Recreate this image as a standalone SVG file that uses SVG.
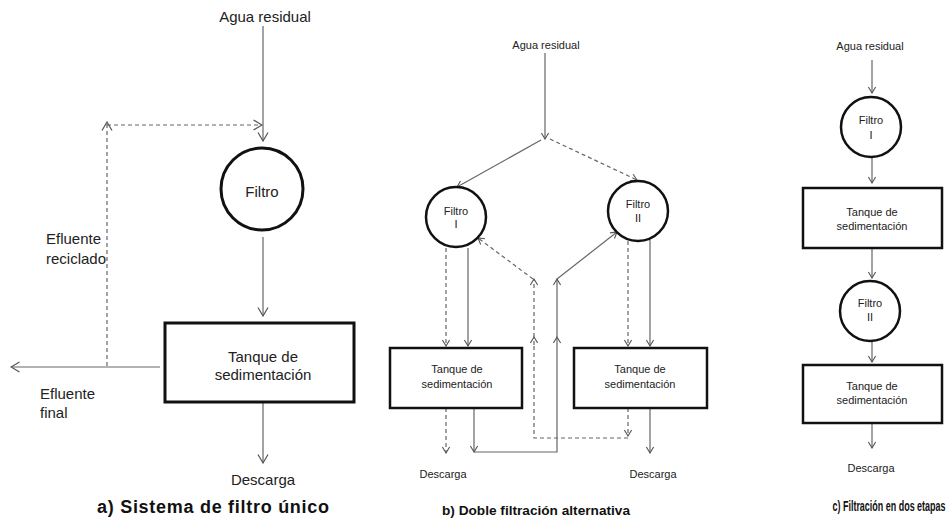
<svg xmlns="http://www.w3.org/2000/svg" width="950" height="525" viewBox="0 0 950 525">
  <defs>
    <style>
      .txt { font-family: "Liberation Sans", Arial, sans-serif; fill: #222; text-anchor: middle; }
      .t15 { font-size: 15px; }
      .t11 { font-size: 11px; }
      .left { text-anchor: start; }
      .title { font-family: "Liberation Sans", Arial, sans-serif; font-weight: bold; fill: #111; text-anchor: middle; }
      .node { fill: #fff; stroke: #111; stroke-width: 3; }
      .node-s { fill: #fff; stroke: #111; stroke-width: 2.5; }
      .ln { fill: none; stroke: #666; stroke-width: 1.2; }
      .dash { stroke-dasharray: 4 3; }
      .big { marker-end: url(#arrBig); }
      .sm { marker-end: url(#arrSm); }
    </style>
    <!-- open chevron arrowheads -->
    <marker id="arrBig" viewBox="-10 -6 11 12" markerWidth="11" markerHeight="12" refX="0" refY="0" orient="auto" markerUnits="userSpaceOnUse">
      <path d="M-8.5,-5 L0,0 L-8.5,5" fill="none" stroke="#555" stroke-width="1.2"/>
    </marker>
    <marker id="arrSm" viewBox="-8 -5 9 10" markerWidth="9" markerHeight="10" refX="0" refY="0" orient="auto" markerUnits="userSpaceOnUse">
      <path d="M-6,-3.6 L0,0 L-6,3.6" fill="none" stroke="#555" stroke-width="1.1"/>
    </marker>
  </defs>

  <!-- ===== a) single filter system ===== -->
  <g id="connectors-a">
    <path class="ln big" d="M263,26 V141"/>
    <path class="ln dash big" d="M107,366 V122"/>
    <path class="ln dash big" d="M107,125 H262"/>
    <path class="ln big" d="M263,237 V316"/>
    <path class="ln big" d="M160,367 H11"/>
    <path class="ln big" d="M263,403 V463"/>
  </g>
  <g id="a-filtro">
    <circle class="node" cx="262" cy="189" r="41"/>
    <text class="txt t15" x="262" y="197">Filtro</text>
  </g>
  <g id="a-tanque">
    <rect class="node" x="165" y="323" width="189" height="79"/>
    <text class="txt t15" x="263" y="362">Tanque de</text>
    <text class="txt t15" x="263" y="380">sedimentación</text>
  </g>
  <g id="a-labels">
    <text class="txt t15" x="265" y="22">Agua residual</text>
    <text class="txt t15 left" x="46" y="244">Efluente</text>
    <text class="txt t15 left" x="46" y="264">reciclado</text>
    <text class="txt t15 left" x="40" y="399">Efluente</text>
    <text class="txt t15 left" x="40" y="418">final</text>
    <text class="txt t15" x="263" y="485">Descarga</text>
    <text class="title" x="213" y="513" font-size="18" textLength="232" lengthAdjust="spacing">a) Sistema de filtro único</text>
  </g>

  <!-- ===== b) alternating double filtration ===== -->
  <g id="connectors-b">
    <path class="ln sm" d="M545,53 V139"/>
    <path class="ln sm" d="M541,140 L457,187"/>
    <path class="ln dash sm" d="M550,139 L637,180"/>
    <!-- filter I to tank -->
    <path class="ln dash sm" d="M446,248 V346"/>
    <path class="ln sm" d="M468,248 V346"/>
    <!-- filter II to tank -->
    <path class="ln dash sm" d="M628,241 V346"/>
    <path class="ln sm" d="M650,240 V346"/>
    <!-- tank outlets -->
    <path class="ln dash sm" d="M446,408 V453"/>
    <path class="ln sm" d="M650,408 V453"/>
    <!-- tank I effluent to filter II -->
    <path class="ln sm" d="M474,408 V452"/>
    <path class="ln sm" d="M474,452 H557 V337"/>
    <path class="ln sm" d="M557,337 V279"/>
    <path class="ln sm" d="M557,279 L617,232"/>
    <!-- tank II effluent to filter I -->
    <path class="ln dash sm" d="M628,408 V436"/>
    <path class="ln dash" d="M628,438 H534 V345"/>
    <path class="ln dash sm" d="M534,345 V337"/>
    <path class="ln dash sm" d="M534,337 V279"/>
    <path class="ln dash sm" d="M533,279 L478,238"/>
  </g>
  <g id="b-filtro1">
    <circle class="node-s" cx="456" cy="217" r="30"/>
    <text class="txt t11" x="456" y="215">Filtro</text>
    <text class="txt t11" x="456" y="228">I</text>
  </g>
  <g id="b-filtro2">
    <circle class="node-s" cx="638" cy="211" r="30"/>
    <text class="txt t11" x="638" y="208">Filtro</text>
    <text class="txt t11" x="638" y="222">II</text>
  </g>
  <g id="b-tanque1">
    <rect class="node-s" x="390" y="348" width="132" height="60"/>
    <text class="txt t11" x="457" y="373">Tanque de</text>
    <text class="txt t11" x="457" y="388">sedimentación</text>
  </g>
  <g id="b-tanque2">
    <rect class="node-s" x="574" y="348" width="133" height="60"/>
    <text class="txt t11" x="640" y="373">Tanque de</text>
    <text class="txt t11" x="640" y="388">sedimentación</text>
  </g>
  <g id="b-labels">
    <text class="txt t11" x="546" y="49">Agua residual</text>
    <text class="txt t11" x="443" y="478">Descarga</text>
    <text class="txt t11" x="653" y="478">Descarga</text>
    <text class="title" x="536" y="515" font-size="13.5" textLength="188" lengthAdjust="spacingAndGlyphs">b) Doble filtración alternativa</text>
  </g>

  <!-- ===== c) two-stage filtration ===== -->
  <g id="connectors-c">
    <path class="ln sm" d="M872,60 V93"/>
    <path class="ln sm" d="M872,157 V183"/>
    <path class="ln sm" d="M872,248 V278"/>
    <path class="ln sm" d="M872,341 V362"/>
    <path class="ln sm" d="M872,423 V448"/>
  </g>
  <g id="c-filtro1">
    <circle class="node-s" cx="871" cy="127" r="30"/>
    <text class="txt t11" x="871" y="124">Filtro</text>
    <text class="txt t11" x="871" y="139">I</text>
  </g>
  <g id="c-tanque1">
    <rect class="node-s" x="803" y="188" width="139" height="60"/>
    <text class="txt t11" x="872" y="216">Tanque de</text>
    <text class="txt t11" x="872" y="230">sedimentación</text>
  </g>
  <g id="c-filtro2">
    <circle class="node-s" cx="870" cy="311" r="30"/>
    <text class="txt t11" x="870" y="307">Filtro</text>
    <text class="txt t11" x="870" y="321">II</text>
  </g>
  <g id="c-tanque2">
    <rect class="node-s" x="803" y="365" width="139" height="58"/>
    <text class="txt t11" x="872" y="390">Tanque de</text>
    <text class="txt t11" x="872" y="404">sedimentación</text>
  </g>
  <g id="c-labels">
    <text class="txt t11" x="870" y="50">Agua residual</text>
    <text class="txt t11" x="871" y="472">Descarga</text>
    <!-- condensed bold caption -->
    <text class="title" transform="translate(889,511) scale(0.64,1)" x="0" y="0" font-size="14">c) Filtración en dos etapas</text>
  </g>
</svg>
